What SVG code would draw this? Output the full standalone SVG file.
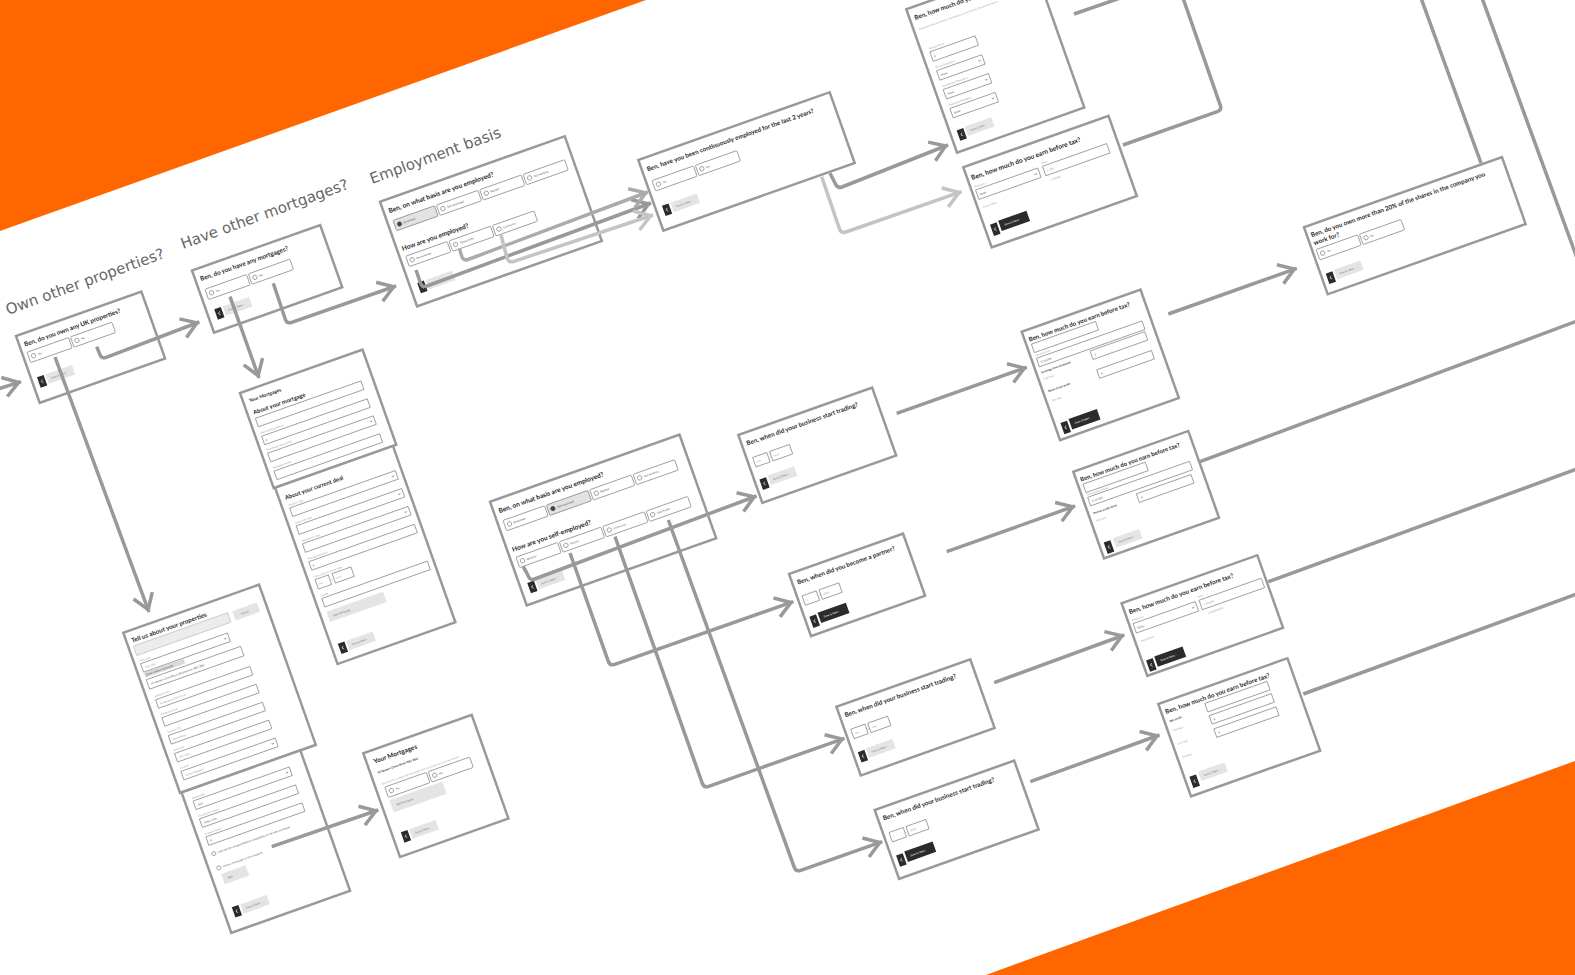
<svg xmlns="http://www.w3.org/2000/svg" width="1575" height="975" viewBox="0 0 1575 975">
<defs>
<style>
.card{fill:#fff;stroke:#999;stroke-width:2.5}
.t{font-family:Lato,'Open Sans','Liberation Sans',sans-serif;font-weight:700;fill:#262626}
.hd{font-family:'DejaVu Sans','Liberation Sans',sans-serif;font-size:15px;fill:#666}
.o{fill:#fff;stroke:#6f6f6f;stroke-width:.6}
.os{fill:#e2e2e2;stroke:#6f6f6f;stroke-width:.6}
.gi{fill:#ececec;stroke:#aaa;stroke-width:.5}
.rc{fill:#fff;stroke:#555;stroke-width:.5}
.rs{fill:#444;stroke:#444;stroke-width:.5}
.s{font-family:Lato,'Liberation Sans',sans-serif;font-size:2.8px;fill:#555}
.l{font-family:Lato,'Liberation Sans',sans-serif;font-size:2.7px;fill:#a0a0a0}
.lb{font-family:Lato,'Liberation Sans',sans-serif;font-size:2.9px;font-weight:700;fill:#333}
.bk{fill:#2b2b2b}
.bg{fill:#e4e4e4}
.bt{font-family:Lato,'Liberation Sans',sans-serif;font-size:2.8px;fill:#777}
.bw{font-family:Lato,'Liberation Sans',sans-serif;font-size:2.8px;fill:#fff}
.ch{fill:none;stroke:#555;stroke-width:.5}
.ic{fill:none;stroke:#fff;stroke-width:.6}
.c{fill:none;stroke:#999;stroke-width:3.5}
.cm{fill:none;stroke:#ababab;stroke-width:3.5}
.cl{fill:none;stroke:#c4c4c4;stroke-width:3.5}
</style>
<marker id="ah" markerUnits="userSpaceOnUse" markerWidth="26" markerHeight="26" viewBox="-20 -13 26 26" refX="2.5" refY="0" orient="auto" overflow="visible">
<path d="M-15,-10 L0,0 L-15,10" fill="none" stroke="#999" stroke-width="3.5"/>
</marker>
<marker id="ahm" markerUnits="userSpaceOnUse" markerWidth="26" markerHeight="26" viewBox="-20 -13 26 26" refX="2.5" refY="0" orient="auto" overflow="visible">
<path d="M-15,-10 L0,0 L-15,10" fill="none" stroke="#ababab" stroke-width="3.5"/>
</marker>
<marker id="ahl" markerUnits="userSpaceOnUse" markerWidth="26" markerHeight="26" viewBox="-20 -13 26 26" refX="2.5" refY="0" orient="auto" overflow="visible">
<path d="M-15,-10 L0,0 L-15,10" fill="none" stroke="#c4c4c4" stroke-width="3.5"/>
</marker>
</defs>

<rect width="1575" height="975" fill="#fff"/>
<g id="bands">
<polygon points="0,0 646,0 0,231" fill="#ff6600"/>
<polygon points="986,975 1575,761 1575,975" fill="#ff6600"/>
</g>

<g id="section-labels">
<text class="hd" transform="translate(8,315) rotate(-20)">Own other properties?</text>
<text class="hd" transform="translate(183,249) rotate(-20)">Have other mortgages?</text>
<text class="hd" transform="translate(372,184) rotate(-20)">Employment basis</text>
</g>

<!-- A -->
<g id="n-own-properties" transform="translate(16,336) rotate(-19.5)">
<rect class="card" width="133" height="71"/>
<text class="t" x="5" y="13" font-size="6.3">Ben, do you own any UK properties?</text>
<rect class="o" x="5" y="19" width="44" height="11" rx="1"/><circle class="rc" cx="10" cy="24.5" r="2.2"/><text class="s" x="14.5" y="25.5">Yes</text>
<rect class="o" x="51" y="19" width="44" height="11" rx="1"/><circle class="rc" cx="56" cy="24.5" r="2.2"/><text class="s" x="60.5" y="25.5">No</text>
<rect class="bk" x="6" y="46" width="7" height="11"/><path class="ic" d="M10.3,49.8 l-1.7,1.7 l1.7,1.7"/>
<rect class="bg" x="15" y="46" width="28" height="10"/><text class="bt" x="19" y="52.3">Save &amp; Next ›</text>
</g>

<!-- B -->
<g id="n-have-mortgages" transform="translate(192,270.5) rotate(-19.5)">
<rect class="card" width="136" height="66"/>
<text class="t" x="5" y="13" font-size="6.3">Ben, do you have any mortgages?</text>
<rect class="o" x="6" y="22" width="44" height="11" rx="1"/><circle class="rc" cx="11" cy="27.5" r="2.2"/><text class="s" x="15.5" y="28.5">Yes</text>
<rect class="o" x="52" y="22" width="44" height="11" rx="1"/><circle class="rc" cx="57" cy="27.5" r="2.2"/><text class="s" x="61.5" y="28.5">No</text>
<rect class="bk" x="8" y="44" width="7" height="11"/><path class="ic" d="M12.3,47.8 l-1.7,1.7 l1.7,1.7"/>
<rect class="bg" x="17" y="44" width="28" height="10"/><text class="bt" x="21" y="50.3">Save &amp; Next ›</text>
</g>

<!-- C -->
<g id="n-your-mortgages-form" transform="translate(240,393) rotate(-19.5)">
<rect class="card" width="130" height="101"/>
<text class="t" x="6" y="12" font-size="4.8">Your Mortgages</text>
<text class="t" x="6" y="25" font-size="5.8">About your mortgage</text>
<rect class="o" x="6" y="29" width="112" height="9"/>
<text class="l" x="6" y="45.5">Outstanding balance</text>
<rect class="o" x="6" y="48" width="112" height="9"/><text class="s" x="8.5" y="54">£</text>
<text class="l" x="6" y="63.5">Remaining term (years)</text>
<rect class="o" x="6" y="66" width="112" height="9"/><path class="ch" d="M112.8,69.9 l1.2,1.2 l1.2,-1.2"/>
<text class="l" x="6" y="82.5">Mortgage lender</text>
<rect class="o" x="6" y="85" width="112" height="9"/>
<g transform="translate(1.5,101)">
<rect class="card" width="125" height="187"/>
<text class="t" x="6" y="15" font-size="5.8">About your current deal</text>
<text class="l" x="7" y="22">Product type</text>
<rect class="o" x="7" y="24" width="112" height="9"/><path class="ch" d="M113.8,27.9 l1.2,1.2 l1.2,-1.2"/>
<text class="l" x="7" y="41">Initial rate type</text>
<rect class="o" x="7" y="43" width="112" height="9"/><path class="ch" d="M113.8,46.9 l1.2,1.2 l1.2,-1.2"/>
<text class="l" x="7" y="60">Repayment type</text>
<rect class="o" x="7" y="62" width="112" height="9"/><path class="ch" d="M113.8,65.9 l1.2,1.2 l1.2,-1.2"/>
<text class="l" x="7" y="79">Monthly payment</text>
<rect class="o" x="7" y="81" width="112" height="9"/><text class="s" x="9.5" y="87">£</text>
<text class="l" x="7" y="98">Start date of current deal</text>
<rect class="o" x="7" y="100" width="14" height="10"/><text class="l" x="9" y="106.3">mm</text>
<text class="s" x="22.3" y="106.5">/</text>
<rect class="o" x="25" y="100" width="20" height="10"/><text class="l" x="27" y="106.3">yyyy</text>
<text class="l" x="7" y="118">Lender</text>
<rect class="o" x="7" y="120" width="112" height="9"/>
<rect class="bg" x="7" y="134" width="60" height="11"/><text class="bt" x="12" y="141">Add Mortgage</text>
<rect class="bk" x="7" y="168" width="7" height="11"/><path class="ic" d="M11.3,171.8 l-1.7,1.7 l1.7,1.7"/>
<rect class="bg" x="16" y="168" width="28" height="10"/><text class="bt" x="20" y="174.3">Save &amp; Next ›</text>
</g>
</g>

<!-- D -->
<g id="n-tell-us-properties" transform="translate(123.3,632.7) rotate(-19.5)">
<rect class="card" width="144" height="170"/>
<text class="t" x="5" y="12.5" font-size="6.3">Tell us about your properties</text>
<rect class="gi" x="5" y="16" width="100" height="10"/>
<rect class="bg" x="110" y="16" width="26" height="10"/><text class="bt" x="117" y="22.5">Search</text>
<text class="l" x="6" y="33">Postcode</text>
<rect class="o" x="6" y="35" width="92" height="9"/><text class="l" x="9" y="41">AB1 2BU</text><path class="ch" d="M92.8,38.9 l1.2,1.2 l1.2,-1.2"/>
<rect x="6" y="44.6" width="42" height="5" fill="#d9d9d9"/><text class="s" x="7.5" y="48.3" font-size="2.6" fill="#333">Enter address manually</text>
<rect class="o" x="6" y="52" width="100" height="10"/><text class="s" x="9" y="58.3" fill="#333">60 Queens Clone Road, Buckenham, AB1 2BU</text>
<text class="l" x="8" y="71.5">Address Line 1</text>
<rect class="o" x="8" y="74" width="100" height="9"/><text class="l" x="11" y="80">60 Queens Clone Road</text>
<text class="l" x="8" y="90.5">Address Line 2</text>
<rect class="o" x="8" y="93" width="100" height="9"/>
<text class="l" x="8" y="109.5">Town or City</text>
<rect class="o" x="8" y="112" width="100" height="9"/><text class="l" x="11" y="118">Buckenham</text>
<text class="l" x="8" y="128.5">Postcode</text>
<rect class="o" x="8" y="131" width="100" height="9"/><text class="l" x="11" y="137">AB1 2BU</text>
<text class="l" x="8" y="147.5">Country</text>
<rect class="o" x="8" y="150" width="100" height="9"/><text class="l" x="11" y="156">United Kingdom</text><path class="ch" d="M102.8,153.9 l1.2,1.2 l1.2,-1.2"/>
<g transform="translate(1.6,170)">
<rect class="card" width="126" height="149"/>
<text class="l" x="8" y="10">Ownership</text>
<rect class="o" x="8" y="12" width="102" height="9"/><text class="s" x="11" y="18">Sole</text><path class="ch" d="M104.8,15.9 l1.2,1.2 l1.2,-1.2"/>
<text class="l" x="8" y="29">Occupation Status</text>
<rect class="o" x="8" y="31" width="102" height="9"/><text class="s" x="11" y="37">Select One</text>
<text class="l" x="8" y="48">Property Value</text>
<rect class="o" x="8" y="50" width="102" height="9"/><text class="s" x="11" y="56">£</text>
<circle class="rc" cx="10" cy="68.5" r="2"/><text class="s" x="14" y="69.5" font-size="2.5">I will sell this property before completing on my new mortgage</text>
<circle class="rc" cx="10" cy="83.5" r="2"/><text class="s" x="14" y="84.5" font-size="2.5">I have a mortgage on this property</text>
<rect class="bg" x="10" y="90" width="26" height="11"/><text class="bt" x="15" y="97">Add</text>
<rect class="bk" x="9" y="125" width="7" height="11"/><path class="ic" d="M13.3,128.8 l-1.7,1.7 l1.7,1.7"/>
<rect class="bg" x="18" y="125" width="28" height="10"/><text class="bt" x="22" y="131.3">Save &amp; Next ›</text>
</g>
</g>

<!-- E -->
<g id="n-your-mortgages-keep" transform="translate(363.3,753.3) rotate(-19.5)">
<rect class="card" width="115" height="110"/>
<text class="t" x="7" y="13.5" font-size="6.5">Your Mortgages</text>
<text class="lb" x="7" y="24" font-size="2.8">60 Queens Clone Road, AB1 2BU</text>
<text class="l" x="7" y="36" font-size="2.4">Do you plan to keep this mortgage after you move to your new home?</text>
<rect class="o" x="9" y="39" width="44" height="11" rx="1"/><circle class="rc" cx="14" cy="44.5" r="2.2"/><text class="s" x="18.5" y="45.5">Yes</text>
<rect class="o" x="55" y="39" width="44" height="11" rx="1"/><circle class="rc" cx="60" cy="44.5" r="2.2"/><text class="s" x="64.5" y="45.5">No</text>
<rect class="bg" x="9" y="53" width="56" height="13"/><text class="bt" x="14" y="60.5">Add Mortgage</text>
<rect class="bk" x="9" y="87" width="7" height="11"/><path class="ic" d="M13.3,90.8 l-1.7,1.7 l1.7,1.7"/>
<rect class="bg" x="18" y="87" width="28" height="10"/><text class="bt" x="22" y="93.3">Save &amp; Next ›</text>
</g>

<!-- F -->
<g id="n-employment-basis" transform="translate(380,201.7) rotate(-19.5)">
<rect class="card" width="196" height="111"/>
<text class="t" x="5" y="14" font-size="6.6">Ben, on what basis are you employed?</text>
<rect class="os" x="6" y="22" width="44" height="11" rx="1"/><circle class="rs" cx="11" cy="27.5" r="2.2"/><text class="s" x="15.5" y="28.5">Employed</text>
<rect class="o" x="52" y="22" width="44" height="11" rx="1"/><circle class="rc" cx="57" cy="27.5" r="2.2"/><text class="s" x="61.5" y="28.5">Self-employed</text>
<rect class="o" x="98" y="22" width="44" height="11" rx="1"/><circle class="rc" cx="103" cy="27.5" r="2.2"/><text class="s" x="107.5" y="28.5">Retired</text>
<rect class="o" x="144" y="22" width="44" height="11" rx="1"/><circle class="rc" cx="149" cy="27.5" r="2.2"/><text class="s" x="153.5" y="28.5">Not working</text>
<text class="t" x="5" y="54" font-size="6.6">How are you employed?</text>
<rect class="o" x="6" y="60" width="44" height="11" rx="1"/><circle class="rc" cx="11" cy="65.5" r="2.2"/><text class="s" x="15.5" y="66.5">Permanently</text>
<rect class="o" x="52" y="60" width="44" height="11" rx="1"/><circle class="rc" cx="57" cy="65.5" r="2.2"/><text class="s" x="61.5" y="66.5">Temporarily</text>
<rect class="o" x="98" y="60" width="44" height="11" rx="1"/><circle class="rc" cx="103" cy="65.5" r="2.2"/><text class="s" x="107.5" y="66.5">Contractor</text>
<rect class="bk" x="8" y="89" width="7" height="11"/><path class="ic" d="M12.3,92.8 l-1.7,1.7 l1.7,1.7"/>
<rect class="bg" x="17" y="89" width="28" height="10"/><text class="bt" x="21" y="95.3">Save &amp; Next ›</text>
</g>

<!-- G -->
<g id="n-continuously-employed" transform="translate(638.3,160) rotate(-19.5)">
<rect class="card" width="203" height="75"/>
<text class="t" x="5" y="14" font-size="6.3">Ben, have you been continuously employed for the last 2 years?</text>
<rect class="o" x="6" y="24" width="44" height="11" rx="1"/><circle class="rc" cx="11" cy="29.5" r="2.2"/><text class="s" x="15.5" y="30.5">Yes</text>
<rect class="o" x="52" y="24" width="44" height="11" rx="1"/><circle class="rc" cx="57" cy="29.5" r="2.2"/><text class="s" x="61.5" y="30.5">No</text>
<rect class="bk" x="7" y="51" width="7" height="11"/><path class="ic" d="M11.3,54.8 l-1.7,1.7 l1.7,1.7"/>
<rect class="bg" x="16" y="51" width="28" height="10"/><text class="bt" x="20" y="57.3">Save &amp; Next ›</text>
</g>

<!-- H -->
<g id="n-earn-salary" transform="translate(906.3,9.3) rotate(-19.5)">
<rect class="card" width="135" height="152"/>
<text class="t" x="5" y="13" font-size="6.3">Ben, how much do you earn before tax?</text>
<text class="l" x="5" y="24" font-size="2.4">Please include any bonus, commission or overtime in the section below</text>
<text class="l" x="8" y="45.5">Annual Salary</text>
<rect class="o" x="8" y="48" width="48" height="10"/><text class="s" x="10.5" y="54.5">£</text>
<text class="l" x="8" y="65.5">Bonus Frequency</text>
<rect class="o" x="8" y="68" width="48" height="10"/><text class="s" x="10.5" y="74.5">None</text><path class="ch" d="M50.8,72.4 l1.2,1.2 l1.2,-1.2"/>
<text class="l" x="8" y="85.5">Commission Frequency</text>
<rect class="o" x="8" y="88" width="48" height="10"/><text class="s" x="10.5" y="94.5">None</text><path class="ch" d="M50.8,92.4 l1.2,1.2 l1.2,-1.2"/>
<text class="l" x="8" y="105.5">Overtime Frequency</text>
<rect class="o" x="8" y="108" width="48" height="10"/><text class="s" x="10.5" y="114.5">None</text><path class="ch" d="M50.8,112.4 l1.2,1.2 l1.2,-1.2"/>
<rect class="bk" x="7" y="131" width="7" height="11"/><path class="ic" d="M11.3,134.8 l-1.7,1.7 l1.7,1.7"/>
<rect class="bg" x="16" y="130" width="28" height="10"/><text class="bt" x="20" y="136.3">Save &amp; Next ›</text>
</g>

<!-- I -->
<g id="n-earn-daily" transform="translate(963.3,167.3) rotate(-19.5)">
<rect class="card" width="154" height="85"/>
<text class="t" x="4" y="15" font-size="6.6">Ben, how much do you earn before tax?</text>
<text class="l" x="4" y="23">Frequency</text>
<text class="l" x="75" y="23">Rate</text>
<rect class="o" x="4" y="25.5" width="66" height="10"/><text class="s" x="7" y="32">Daily</text><path class="ch" d="M64.8,29.9 l1.2,1.2 l1.2,-1.2"/>
<rect class="o" x="75" y="25.5" width="68" height="10"/><text class="l" x="78" y="32">£ 300</text>
<text class="l" x="78" y="42">£ 48,000</text>
<text class="l" x="5" y="45">Annual Rate</text>
<rect class="bk" x="6" y="63" width="7" height="12"/><path class="ic" d="M10.3,67.3 l-1.7,1.7 l1.7,1.7"/>
<rect class="bk" x="15" y="62" width="30" height="11"/><text class="bw" x="19.5" y="68.8">Save &amp; Next ›</text>
</g>

<!-- J -->
<g id="n-own-shares" transform="translate(1304,227.3) rotate(-19.5)">
<rect class="card" width="210" height="71"/>
<text class="t" x="4" y="12" font-size="6.3">Ben, do you own more than 20% of the shares in the company you</text>
<text class="t" x="4" y="20.5" font-size="6.3">work for?</text>
<rect class="o" x="4" y="25" width="44" height="11" rx="1"/><circle class="rc" cx="9" cy="30.5" r="2.2"/><text class="s" x="13.5" y="31.5">Yes</text>
<rect class="o" x="50" y="25" width="44" height="11" rx="1"/><circle class="rc" cx="55" cy="30.5" r="2.2"/><text class="s" x="59.5" y="31.5">No</text>
<rect class="bk" x="5" y="51" width="7" height="11"/><path class="ic" d="M9.3,54.8 l-1.7,1.7 l1.7,1.7"/>
<rect class="bg" x="14" y="50" width="28" height="10"/><text class="bt" x="18" y="56.3">Save &amp; Next ›</text>
</g>

<!-- K -->
<g id="n-self-employed-basis" transform="translate(490,501.7) rotate(-19.5)">
<rect class="card" width="201" height="110"/>
<text class="t" x="5" y="14" font-size="6.6">Ben, on what basis are you employed?</text>
<rect class="o" x="6" y="22" width="44" height="11" rx="1"/><circle class="rc" cx="11" cy="27.5" r="2.2"/><text class="s" x="15.5" y="28.5">Employed</text>
<rect class="os" x="52" y="22" width="44" height="11" rx="1"/><circle class="rs" cx="57" cy="27.5" r="2.2"/><text class="s" x="61.5" y="28.5">Self-employed</text>
<rect class="o" x="98" y="22" width="44" height="11" rx="1"/><circle class="rc" cx="103" cy="27.5" r="2.2"/><text class="s" x="107.5" y="28.5">Retired</text>
<rect class="o" x="144" y="22" width="44" height="11" rx="1"/><circle class="rc" cx="149" cy="27.5" r="2.2"/><text class="s" x="153.5" y="28.5">Not working</text>
<text class="t" x="5" y="55" font-size="6.6">How are you self-employed?</text>
<rect class="o" x="6" y="61" width="44" height="11" rx="1"/><circle class="rc" cx="11" cy="66.5" r="2.2"/><text class="s" x="15.5" y="67.5">Director</text>
<rect class="o" x="52" y="61" width="44" height="11" rx="1"/><circle class="rc" cx="57" cy="66.5" r="2.2"/><text class="s" x="61.5" y="67.5">Partner</text>
<rect class="o" x="98" y="61" width="44" height="11" rx="1"/><circle class="rc" cx="103" cy="66.5" r="2.2"/><text class="s" x="107.5" y="67.5">Contractor</text>
<rect class="o" x="144" y="61" width="44" height="11" rx="1"/><circle class="rc" cx="149" cy="66.5" r="2.2"/><text class="s" x="153.5" y="67.5">Sole Trader</text>
<rect class="bk" x="8" y="89" width="7" height="11"/><path class="ic" d="M12.3,92.8 l-1.7,1.7 l1.7,1.7"/>
<rect class="bg" x="17" y="89" width="28" height="10"/><text class="bt" x="21" y="95.3">Save &amp; Next ›</text>
</g>

<!-- L -->
<g id="n-start-trading-1" transform="translate(738.3,435) rotate(-19.5)">
<rect class="card" width="142" height="72"/>
<text class="t" x="5" y="13" font-size="6.3">Ben, when did your business start trading?</text>
<rect class="o" x="6" y="26" width="15" height="10"/><text class="l" x="8.5" y="32.3">mm</text>
<text class="s" x="22.3" y="32.5">/</text>
<rect class="o" x="24" y="26" width="21" height="10"/><text class="l" x="26.5" y="32.3">yyyy</text>
<rect class="bk" x="5" y="49" width="7" height="11"/><path class="ic" d="M9.3,52.8 l-1.7,1.7 l1.7,1.7"/>
<rect class="bg" x="14" y="48" width="28" height="10"/><text class="bt" x="18" y="54.3">Save &amp; Next ›</text>
</g>

<!-- M -->
<g id="n-become-partner" transform="translate(789,574) rotate(-19.5)">
<rect class="card" width="121" height="66"/>
<text class="t" x="5" y="13" font-size="6.2">Ben, when did you become a partner?</text>
<rect class="o" x="5" y="25" width="15" height="10"/><text class="l" x="7.5" y="31.3">1</text>
<text class="s" x="21.3" y="31.5">/</text>
<rect class="o" x="23" y="25" width="21" height="10"/><text class="l" x="25.5" y="31.3">2018</text>
<rect class="bk" x="5" y="47" width="7" height="12"/><path class="ic" d="M9.3,51.3 l-1.7,1.7 l1.7,1.7"/>
<rect class="bk" x="14" y="46" width="30" height="11"/><text class="bw" x="18.5" y="52.8">Save &amp; Next ›</text>
</g>

<!-- N -->
<g id="n-start-trading-2" transform="translate(836.4,706.7) rotate(-19.5)">
<rect class="card" width="142" height="73"/>
<text class="t" x="5" y="13" font-size="6.3">Ben, when did your business start trading?</text>
<rect class="o" x="6" y="26" width="15" height="10"/><text class="l" x="8.5" y="32.3">mm</text>
<text class="s" x="22.3" y="32.5">/</text>
<rect class="o" x="24" y="26" width="21" height="10"/><text class="l" x="26.5" y="32.3">yyyy</text>
<rect class="bk" x="5" y="50" width="7" height="11"/><path class="ic" d="M9.3,53.8 l-1.7,1.7 l1.7,1.7"/>
<rect class="bg" x="14" y="49" width="28" height="10"/><text class="bt" x="18" y="55.3">Save &amp; Next ›</text>
</g>

<!-- O -->
<g id="n-start-trading-3" transform="translate(874.7,810) rotate(-19.5)">
<rect class="card" width="148" height="73"/>
<text class="t" x="5" y="13" font-size="6.3">Ben, when did your business start trading?</text>
<rect class="o" x="6" y="26" width="15" height="10"/><text class="l" x="8.5" y="32.3">1</text>
<text class="s" x="22.3" y="32.5">/</text>
<rect class="o" x="24" y="26" width="21" height="10"/><text class="l" x="26.5" y="32.3">2018</text>
<rect class="bk" x="5" y="50" width="7" height="12"/><path class="ic" d="M9.3,54.3 l-1.7,1.7 l1.7,1.7"/>
<rect class="bk" x="14" y="49" width="30" height="11"/><text class="bw" x="18.5" y="55.8">Save &amp; Next ›</text>
</g>

<!-- P -->
<g id="n-earn-director" transform="translate(1021.7,331.7) rotate(-19.5)">
<rect class="card" width="126" height="115"/>
<text class="t" x="4" y="12" font-size="6.1">Ben, how much do you earn before tax?</text>
<rect class="o" x="5" y="15" width="68" height="9"/>
<text class="l" x="5" y="28">Annual Salary</text>
<rect class="o" x="5" y="30" width="112" height="9"/><text class="s" x="8" y="36">£ 15,000</text>
<text class="lb" x="5" y="46">Earnings from dividends</text>
<rect class="o" x="58" y="41" width="58" height="9"/><text class="s" x="61" y="47">£</text>
<text class="l" x="5" y="53">This Year</text>
<text class="lb" x="5" y="66">Share of net profit</text>
<rect class="o" x="58" y="61" width="58" height="9"/><text class="s" x="61" y="67">£</text>
<text class="l" x="5" y="76">This Year</text>
<rect class="bk" x="6" y="99" width="7" height="12"/><path class="ic" d="M10.3,103.3 l-1.7,1.7 l1.7,1.7"/>
<rect class="bk" x="15" y="98" width="30" height="11"/><text class="bw" x="19.5" y="104.8">Save &amp; Next ›</text>
</g>

<!-- Q -->
<g id="n-earn-partner" transform="translate(1073.3,471.7) rotate(-19.5)">
<rect class="card" width="122" height="92"/>
<text class="t" x="4" y="12" font-size="6">Ben, how much do you earn before tax?</text>
<rect class="o" x="5" y="15" width="66" height="9"/>
<text class="l" x="5" y="27.5">Commission/Share</text>
<rect class="o" x="5" y="29" width="108" height="9"/><text class="s" x="8" y="35">£ 15,000</text>
<text class="lb" x="5" y="47">Partner profit share</text>
<rect class="o" x="52" y="42" width="58" height="9"/><text class="s" x="55" y="48">£</text>
<text class="l" x="5" y="55">This Year</text>
<rect class="bk" x="5" y="77" width="7" height="12"/><path class="ic" d="M9.3,81.3 l-1.7,1.7 l1.7,1.7"/>
<rect class="bg" x="15" y="76" width="28" height="10"/><text class="bt" x="19" y="82.3">Save &amp; Next ›</text>
</g>

<!-- R -->
<g id="n-earn-contractor" transform="translate(1121.6,603.3) rotate(-19.5)">
<rect class="card" width="144" height="77"/>
<text class="t" x="4" y="13" font-size="6.3">Ben, how much do you earn before tax?</text>
<text class="l" x="4" y="20.5">Frequency</text>
<text class="l" x="74" y="20.5">Rate</text>
<rect class="o" x="4" y="23" width="66" height="10"/><text class="s" x="7" y="29.5">Daily</text><path class="ch" d="M64.8,27.4 l1.2,1.2 l1.2,-1.2"/>
<rect class="o" x="74" y="23" width="66" height="10"/><text class="l" x="77" y="29.5">£ 15,000</text>
<text class="l" x="78" y="39">£ 18,000,000</text>
<text class="l" x="5" y="43">Annual Rate</text>
<rect class="bk" x="4" y="62" width="7" height="12"/><path class="ic" d="M8.3,66.3 l-1.7,1.7 l1.7,1.7"/>
<rect class="bk" x="13" y="61" width="30" height="11"/><text class="bw" x="17.5" y="67.8">Save &amp; Next ›</text>
</g>

<!-- S -->
<g id="n-earn-sole-trader" transform="translate(1158.3,704) rotate(-19.5)">
<rect class="card" width="137" height="98"/>
<text class="t" x="4" y="12" font-size="6.3">Ben, how much do you earn before tax?</text>
<text class="lb" x="5" y="21">Net profit</text>
<rect class="o" x="44" y="15" width="66" height="9"/>
<text class="l" x="5" y="31">This Year</text>
<rect class="o" x="44" y="28" width="66" height="9"/><text class="s" x="47" y="34">£</text>
<text class="l" x="5" y="45">Last Year</text>
<rect class="o" x="44" y="42" width="66" height="9"/><text class="s" x="47" y="48">£</text>
<text class="l" x="5" y="59">Average</text>
<rect class="bk" x="5" y="79" width="7" height="12"/><path class="ic" d="M9.3,83.3 l-1.7,1.7 l1.7,1.7"/>
<rect class="bg" x="15" y="77" width="28" height="10"/><text class="bt" x="19" y="83.3">Save &amp; Next ›</text>
</g>

<g id="connectors">
<path class="c" d="M-2,389 L21,381.7" marker-end="url(#ah)"/>
<path class="c" d="M96.7,346.7 L99.8,354.3 Q101.5,359 106.2,357.3 L199.3,322" marker-end="url(#ah)"/>
<path class="c" d="M55,357 L149,612" marker-end="url(#ah)"/>
<path class="c" d="M230,296.7 L259,378" marker-end="url(#ah)"/>
<path class="c" d="M273.3,283.3 L285.3,319.3 Q287,324 291.7,322.3 L396,286" marker-end="url(#ah)"/>
<path class="c" d="M271.7,846.7 L378.3,810" marker-end="url(#ah)"/>
<path class="c" d="M416,270 L420.5,283 Q422,288 427,286 L651,203" marker-end="url(#ah)"/>
<path class="cm" d="M459.3,248.3 L462,257 Q463.5,261 468,259.5 L648,192" marker-end="url(#ahm)"/>
<path class="cl" d="M501,235 L507,258 Q508.5,263 513.5,261.5 L653,215" marker-end="url(#ahl)"/>
<path class="c" d="M830,173.3 L835.5,184 Q837.5,188.5 842,187 L948,145" marker-end="url(#ah)"/>
<path class="cl" d="M821.7,176.7 L839.5,229 Q841.2,233.6 846,232 L961.5,191.7" marker-end="url(#ahl)"/>
<path class="c" d="M1074,14 L1126,-4"/>
<path class="c" d="M1123,145 L1217.3,111.7 Q1222,110 1220.3,105.3 L1183,-2"/>
<path class="c" d="M1481,163 L1421,-2"/>
<path class="c" d="M1482,-2 L1577,258"/>
<path class="c" d="M523.3,566.7 L528.3,576 Q530,580.7 534.7,579 L756.5,496" marker-end="url(#ah)"/>
<path class="c" d="M570,553 L608.3,661.3 Q610,666 614.7,664.3 L793.3,601.7" marker-end="url(#ah)"/>
<path class="c" d="M615,536.7 L702.3,783.3 Q704,788 708.7,786.3 L844.4,738.3" marker-end="url(#ah)"/>
<path class="c" d="M668.3,520 L794.3,867.3 Q796,872 800.7,870.3 L882.2,841.7" marker-end="url(#ah)"/>
<path class="c" d="M896.7,413.3 L1026.7,367.3" marker-end="url(#ah)"/>
<path class="c" d="M1168.3,314 L1296.7,268.3" marker-end="url(#ah)"/>
<path class="c" d="M946.7,551.7 L1075,506" marker-end="url(#ah)"/>
<path class="c" d="M994.2,682.7 L1124.3,635" marker-end="url(#ah)"/>
<path class="c" d="M1030.3,781.7 L1159.4,735" marker-end="url(#ah)"/>
<path class="c" d="M1200,461.7 L1577,321"/>
<path class="c" d="M1268.3,581.7 L1577,469"/>
<path class="c" d="M1303.3,694 L1577,594"/>
</g>
</svg>
